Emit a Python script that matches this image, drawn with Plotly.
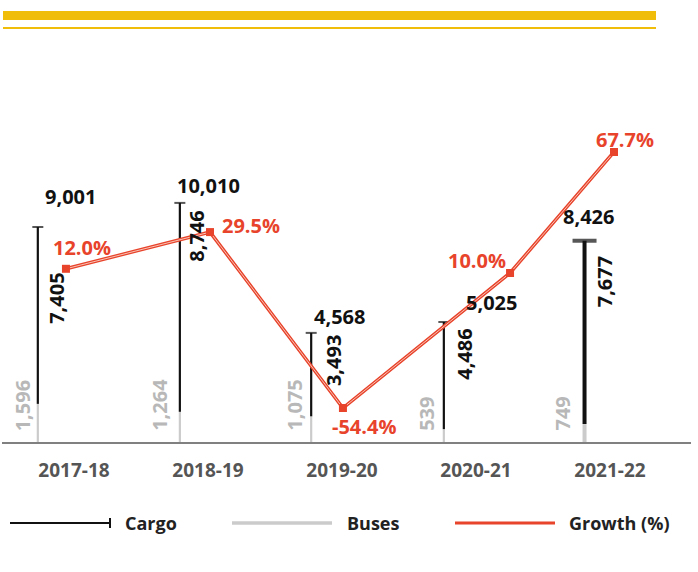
import plotly.graph_objects as go

# --- data -----------------------------------------------------------------
years = ["2017-18", "2018-19", "2019-20", "2020-21", "2021-22"]
cargo = [7405, 8746, 3493, 4486, 7677]
buses = [1596, 1264, 1075, 539, 749]
growth = [12.0, 29.5, -54.4, 10.0, 67.7]

totals = [b + c for b, c in zip(buses, cargo)]

# --- layout constants -----------------------------------------------------
W, H = 698, 572
ML, MR, MT, MB = 2, 7, 40, 130
PLOT_W = W - ML - MR
PLOT_H = H - MT - MB
PX_PER_CAT = 134
X0 = -(74 - ML) / PX_PER_CAT
X_RANGE = [X0, X0 + PLOT_W / PX_PER_CAT]
Y_RANGE = [0, 16830]
Y2_RANGE = [-70.6, 121.1]

FONT = "Open Sans"
BLACK = "#111111"
GREY = "#cbcbcb"
RED = "#e8432b"
YELLOW = "#f0bd0b"

bar_shift = [-0.27, -0.21, -0.23, -0.24, -0.19]
bar_px = [2.2, 2.2, 2.2, 2.2, 4]
cap_px = [11, 11, 11, 11, 24]
cap_thick = [2, 2, 2, 2, 4]
growth_shift = [-0.06, 0.015, 0.007, 0.254, 0.03]

total_dx = [33, 29, 28, 48, 4]
total_dy = [31, 17, 16, 19, 24]
cargo_dx = [18, 17, 23, 21, 20]
cargo_dy = [-71, -33, -28, -32, -41]
bus_dx = [-15, -21, -17, -18, -23]
growth_dx = [16, 41, 21, -33, 11]
growth_dy = [21, 7, -18, 12, 12]

bar_x = [i + s for i, s in enumerate(bar_shift)]
growth_x = [i + s for i, s in enumerate(growth_shift)]
bar_w = [p / PX_PER_CAT for p in bar_px]


def px(xp):
    return (xp - ML) / PLOT_W


def py(yp):
    return (MT + PLOT_H - yp) / PLOT_H


fig = go.Figure()

# stacked thin bars: buses at the bottom, cargo on top
fig.add_trace(go.Bar(x=bar_x, y=buses, width=bar_w, marker=dict(color=GREY, line_width=0),
                     name="Buses", hoverinfo="skip"))
fig.add_trace(go.Bar(x=bar_x, y=cargo, base=buses, width=bar_w,
                     marker=dict(color=BLACK, line_width=0), name="Cargo", hoverinfo="skip"))
# caps on top of each bar
fig.add_trace(go.Scatter(x=bar_x, y=totals, mode="markers", hoverinfo="skip",
                         marker=dict(symbol="line-ew", size=[c / 1.4 for c in cap_px],
                                     line=dict(width=cap_thick, color=BLACK))))

# growth line on the secondary axis (outlined red line)
fig.add_trace(go.Scatter(x=growth_x, y=growth, yaxis="y2", mode="lines",
                         line=dict(color=RED, width=3.5), hoverinfo="skip"))
fig.add_trace(go.Scatter(x=growth_x, y=growth, yaxis="y2", mode="lines+markers",
                         line=dict(color="#f8c4b6", width=1),
                         marker=dict(symbol="square", size=8, color=RED, line_width=0),
                         name="Growth (%)", hoverinfo="skip"))

ann = []
lab_font = dict(family=FONT, size=20, color=BLACK, weight="bold")
for i in range(len(years)):
    ann.append(dict(x=bar_x[i], y=totals[i], xref="x", yref="y", text=f"{totals[i]:,}",
                    showarrow=False, xshift=total_dx[i], yshift=total_dy[i],
                    xanchor="center", yanchor="middle", font=lab_font))
    ann.append(dict(x=bar_x[i], y=totals[i], xref="x", yref="y", text=f"{cargo[i]:,}",
                    showarrow=False, xshift=cargo_dx[i], yshift=cargo_dy[i], textangle=-90,
                    xanchor="center", yanchor="middle", font=lab_font))
    ann.append(dict(x=bar_x[i], y=0, xref="x", yref="y", text=f"{buses[i]:,}",
                    showarrow=False, xshift=bus_dx[i], yshift=9, textangle=-90,
                    xanchor="center", yanchor="bottom",
                    font=dict(family=FONT, size=20, color="#b8b8b8", weight="bold")))
    ann.append(dict(x=growth_x[i], y=growth[i], xref="x", yref="y2", text=f"{growth[i]:.1f}%",
                    showarrow=False, xshift=growth_dx[i], yshift=growth_dy[i],
                    xanchor="center", yanchor="middle",
                    font=dict(family=FONT, size=20, color=RED, weight="bold")))

# legend drawn by hand
leg_y = 523
leg_font = dict(family=FONT, size=18, color="#222222", weight="bold")
legend_items = [("Cargo", 10, 110, 123, BLACK, 2),
                ("Buses", 232, 332, 345, GREY, 3.5),
                ("Growth (%)", 455, 555, 567, RED, 3)]
shapes = []
for label, x0, x1, tx, col, lw in legend_items:
    shapes.append(dict(type="line", xref="paper", yref="paper", x0=px(x0), x1=px(x1),
                       y0=py(leg_y), y1=py(leg_y), line=dict(color=col, width=lw)))
    ann.append(dict(x=px(tx), y=py(leg_y), xref="paper", yref="paper", text=label,
                    showarrow=False, xanchor="left", yanchor="middle", font=leg_font))
shapes.append(dict(type="line", xref="paper", yref="paper", x0=px(110), x1=px(110),
                   y0=py(leg_y - 5), y1=py(leg_y + 5), line=dict(color=BLACK, width=2)))

# yellow header rules
shapes.append(dict(type="rect", xref="paper", yref="paper", x0=px(3), x1=px(656),
                   y0=py(20), y1=py(11), fillcolor=YELLOW, line_width=0))
shapes.append(dict(type="rect", xref="paper", yref="paper", x0=px(3), x1=px(656),
                   y0=py(29), y1=py(27), fillcolor=YELLOW, line_width=0))

fig.update_layout(
    width=W, height=H,
    margin=dict(l=ML, r=MR, t=MT, b=MB),
    paper_bgcolor="white", plot_bgcolor="white",
    barmode="overlay", showlegend=False,
    xaxis=dict(range=X_RANGE, tickvals=list(range(len(years))), ticktext=years,
               showgrid=False, zeroline=False, showline=True, linecolor="#808080",
               linewidth=1.5, ticks="outside", ticklen=10, tickcolor="rgba(0,0,0,0)",
               tickfont=dict(family=FONT, size=19, color="#555555", weight="bold"),
               fixedrange=True),
    yaxis=dict(range=Y_RANGE, visible=False, fixedrange=True),
    yaxis2=dict(range=Y2_RANGE, overlaying="y", visible=False, fixedrange=True),
    annotations=ann, shapes=shapes,
)

fig.write_html("out.html")
